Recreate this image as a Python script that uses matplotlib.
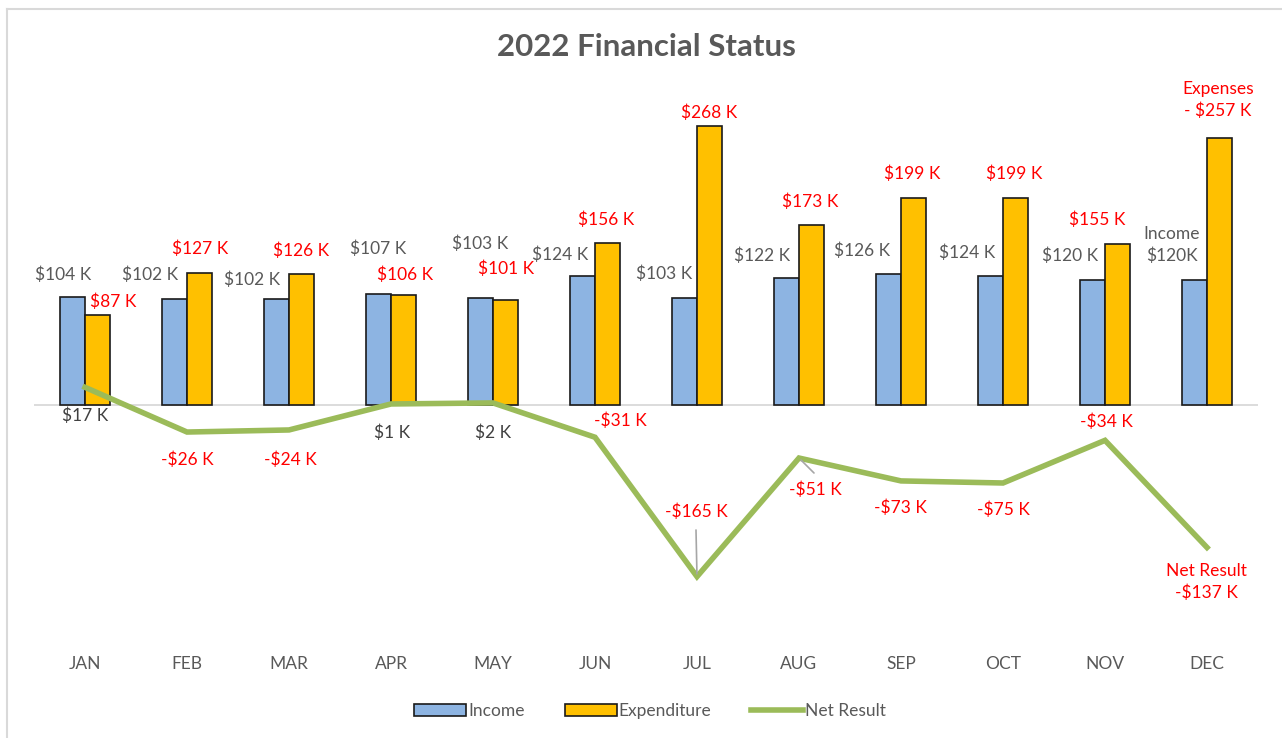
import matplotlib
matplotlib.use("Agg")
import matplotlib.pyplot as plt
from matplotlib.lines import Line2D
from matplotlib.patches import Patch

months = ["JAN", "FEB", "MAR", "APR", "MAY", "JUN", "JUL", "AUG", "SEP", "OCT", "NOV", "DEC"]
income = [104, 102, 102, 107, 103, 124, 103, 122, 126, 124, 120, 120]
expenditure = [87, 127, 126, 106, 101, 156, 268, 173, 199, 199, 155, 257]
net_result = [17, -26, -24, 1, 2, -31, -165, -51, -73, -75, -34, -137]

income_labels = ["$104 K", "$102 K", "$102 K", "$107 K", "$103 K", "$124 K", "$103 K",
                 "$122 K", "$126 K", "$124 K", "$120 K", "Income\n$120K"]
exp_labels = ["$87 K", "$127 K", "$126 K", "$106 K", "$101 K", "$156 K", "$268 K",
              "$173 K", "$199 K", "$199 K", "$155 K", "Expenses\n- $257 K"]
net_labels = ["$17 K", "-$26 K", "-$24 K", "$1 K", "$2 K", "-$31 K", "-$165 K",
              "-$51 K", "-$73 K", "-$75 K", "-$34 K", "Net Result\n-$137 K"]

W, H = 1282, 738
fig = plt.figure(figsize=(W / 100, H / 100), dpi=100)
FONT = "Lato"
GRAY = "#595959"
RED = "#FF0000"

# axes: zero at y=405 px, ~1.04 px per K
ax_left, ax_right = 34, 1258
ax_top, ax_bottom = 93, 640
ax = fig.add_axes([ax_left / W, 1 - ax_bottom / H, (ax_right - ax_left) / W, (ax_bottom - ax_top) / H])
ppk = 1.04
ymax = (405 - ax_top) / ppk
ymin = -(ax_bottom - 405) / ppk
ax.set_ylim(ymin, ymax)
ax.set_xlim(-0.5, len(months) - 0.5)

x = list(range(len(months)))
bw = 0.245
ax.bar([i - bw / 2 for i in x], income, width=bw, color="#8DB4E2", edgecolor="#1a1a1a", linewidth=1.2, zorder=2)
ax.bar([i + bw / 2 for i in x], expenditure, width=bw, color="#FFC000", edgecolor="#1a1a1a", linewidth=1.2, zorder=2)
ax.axhline(0, color="#D9D9D9", linewidth=1.3, zorder=1)
ax.plot(x, net_result, color="#9BBB59", linewidth=4, zorder=3, solid_joinstyle="miter")

for s in ax.spines.values():
    s.set_visible(False)
ax.set_yticks([])
ax.set_xticks([])

fs = 12.5

def px_to_data(px, py):
    inv = ax.transData.inverted()
    return inv.transform((px, H - py))

# label pixel positions (center)
inc_pos = [(63, 275), (150, 275), (252, 280), (378, 249), (480, 244), (560, 255), (664, 274),
           (762, 256), (862, 251), (967, 253), (1070, 256), (1172, 245)]
exp_pos = [(113, 302), (200, 249), (301, 251), (405, 275), (506, 269), (606, 220), (709, 113),
           (810, 202), (912, 174), (1014, 174), (1097, 220), (1218, 100)]
net_pos = [(85, 416), (187, 460), (290, 460), (392, 433), (493, 433), (620, 421), (696, 512),
           (815, 490), (900, 508), (1003, 510), (1106, 422), (1206, 582)]

fig.canvas.draw()
for i in x:
    ax.annotate(income_labels[i], xy=(i - bw / 2, income[i]), xycoords="data",
                xytext=px_to_data(*inc_pos[i]), textcoords="data",
                ha="center", va="center", fontsize=fs, family=FONT, color=GRAY,
                linespacing=1.35, zorder=5)
    ax.annotate(exp_labels[i], xy=(i + bw / 2, expenditure[i]), xycoords="data",
                xytext=px_to_data(*exp_pos[i]), textcoords="data",
                ha="center", va="center", fontsize=fs, family=FONT, color=RED,
                linespacing=1.35, zorder=5)
    col = "#404040" if net_result[i] >= 0 else RED
    ax.annotate(net_labels[i], xy=(i, net_result[i]), xycoords="data",
                xytext=px_to_data(*net_pos[i]), textcoords="data",
                ha="center", va="center", fontsize=fs, family=FONT, color=col,
                linespacing=1.35, zorder=5)

# leader lines (JUL, AUG)
ax.annotate("", xy=(6, net_result[6]), xytext=px_to_data(696, 530),
            arrowprops=dict(arrowstyle="-", color="#A6A6A6", lw=1.2, shrinkA=0, shrinkB=2))
ax.annotate("", xy=(7, net_result[7]), xytext=px_to_data(814, 473),
            arrowprops=dict(arrowstyle="-", color="#A6A6A6", lw=1.2, shrinkA=0, shrinkB=2))

# category labels
for i, m in enumerate(months):
    fig.text((85 + i * 102) / W, 1 - 664 / H, m, ha="center", va="center",
             fontsize=fs, family=FONT, color=GRAY)

fig.text(646 / W, 1 - 47 / H, "2022 Financial Status", ha="center", va="center",
         fontsize=22.5, fontweight="bold", family=FONT, color=GRAY)

handles = [Patch(facecolor="#8DB4E2", edgecolor="#1a1a1a", linewidth=1.2),
           Patch(facecolor="#FFC000", edgecolor="#1a1a1a", linewidth=1.2),
           Line2D([0], [0], color="#9BBB59", linewidth=4)]
leg = fig.legend(handles, ["Income", "Expenditure", "Net Result"], loc="center",
                 bbox_to_anchor=(650 / W, 1 - 711 / H), ncol=3, frameon=False,
                 prop={"family": FONT, "size": fs}, handlelength=3.0, handleheight=0.7,
                 handletextpad=0.1, columnspacing=2.3)
for t in leg.get_texts():
    t.set_color(GRAY)

# chart border
fig.add_artist(Line2D([7 / W, 1], [1 - 9 / H, 1 - 9 / H], color="#D9D9D9", linewidth=1.5, transform=fig.transFigure))
fig.add_artist(Line2D([7 / W, 7 / W], [1 - 9 / H, 0], color="#D9D9D9", linewidth=1.5, transform=fig.transFigure))

fig.savefig("out.png", dpi=100)
